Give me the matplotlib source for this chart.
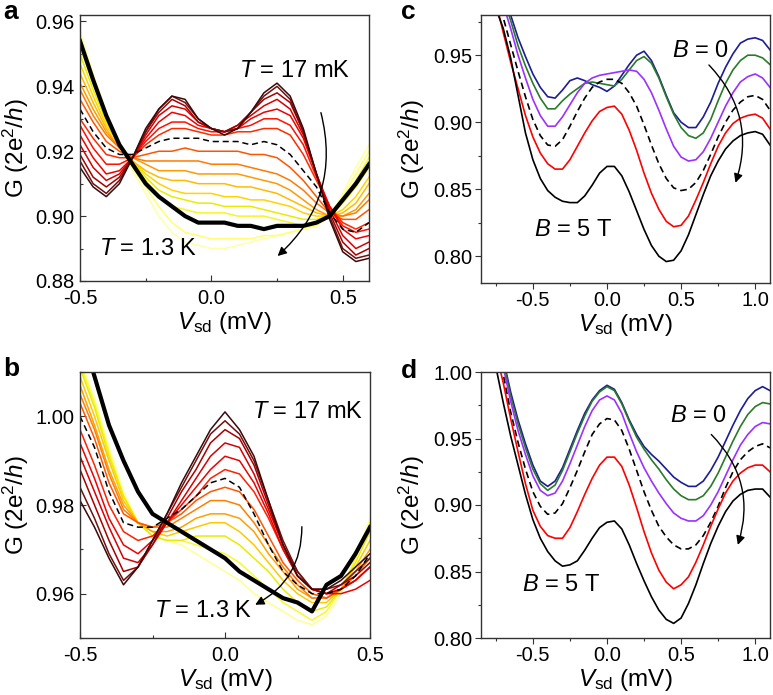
import matplotlib
matplotlib.use("Agg")
import matplotlib.pyplot as plt
from matplotlib.ticker import MultipleLocator, FormatStrFormatter

plt.rcParams['font.family'] = ['Liberation Sans', 'DejaVu Sans']
plt.rcParams['mathtext.fontset'] = 'custom'
plt.rcParams['mathtext.rm'] = 'Liberation Sans'
plt.rcParams['mathtext.it'] = 'Liberation Sans:italic'
plt.rcParams['mathtext.bf'] = 'Liberation Sans:bold'

# ---------------- Panel a data (T dependence) ----------------
vsd_a = [-0.50, -0.45, -0.40, -0.35, -0.30, -0.25, -0.20, -0.15, -0.10, -0.05, 0.00,
         0.05, 0.10, 0.15, 0.20, 0.25, 0.30, 0.35, 0.40, 0.45, 0.50, 0.55, 0.60]
a_17mK = [0.915, 0.909, 0.906, 0.910, 0.918, 0.927, 0.933, 0.937, 0.936, 0.930, 0.927,
          0.925, 0.927, 0.932, 0.938, 0.941, 0.937, 0.927, 0.913, 0.899, 0.889, 0.886, 0.887]
a_r2 = [0.917, 0.910, 0.907, 0.911, 0.918, 0.926, 0.933, 0.937, 0.935, 0.930, 0.927,
        0.926, 0.927, 0.932, 0.937, 0.940, 0.936, 0.926, 0.913, 0.900, 0.890, 0.887, 0.888]
a_r3 = [0.919, 0.912, 0.909, 0.912, 0.918, 0.926, 0.932, 0.936, 0.934, 0.929, 0.927,
        0.926, 0.928, 0.932, 0.936, 0.938, 0.935, 0.926, 0.913, 0.901, 0.892, 0.888, 0.890]
a_r4 = [0.922, 0.915, 0.911, 0.913, 0.918, 0.925, 0.931, 0.934, 0.933, 0.929, 0.927,
        0.926, 0.928, 0.931, 0.934, 0.936, 0.933, 0.925, 0.913, 0.902, 0.894, 0.890, 0.892]
a_r5 = [0.925, 0.918, 0.913, 0.914, 0.918, 0.924, 0.929, 0.932, 0.931, 0.928, 0.927,
        0.926, 0.927, 0.930, 0.932, 0.933, 0.931, 0.924, 0.913, 0.903, 0.896, 0.893, 0.894]
a_r6 = [0.928, 0.921, 0.916, 0.916, 0.918, 0.923, 0.927, 0.929, 0.929, 0.927, 0.926,
        0.926, 0.927, 0.928, 0.930, 0.930, 0.928, 0.922, 0.912, 0.903, 0.897, 0.895, 0.896]
a_r7 = [0.930, 0.924, 0.919, 0.918, 0.918, 0.922, 0.925, 0.927, 0.927, 0.926, 0.925,
        0.925, 0.926, 0.926, 0.927, 0.927, 0.925, 0.919, 0.911, 0.903, 0.898, 0.896, 0.898]
a_dash = [0.933, 0.926, 0.921, 0.919, 0.919, 0.921, 0.923, 0.924, 0.924, 0.924, 0.923,
          0.923, 0.923, 0.922, 0.923, 0.922, 0.919, 0.914, 0.909, 0.901, 0.896, 0.895, 0.898]
a_o1 = [0.936, 0.929, 0.923, 0.920, 0.918, 0.919, 0.920, 0.920, 0.921, 0.920, 0.920,
        0.920, 0.920, 0.919, 0.919, 0.918, 0.915, 0.911, 0.906, 0.901, 0.899, 0.899, 0.902]
a_o2 = [0.939, 0.931, 0.925, 0.921, 0.918, 0.917, 0.917, 0.917, 0.917, 0.917, 0.916,
        0.916, 0.916, 0.915, 0.914, 0.913, 0.911, 0.908, 0.904, 0.901, 0.900, 0.901, 0.905]
a_o3 = [0.941, 0.933, 0.926, 0.921, 0.918, 0.916, 0.914, 0.914, 0.914, 0.913, 0.913,
        0.913, 0.913, 0.912, 0.911, 0.910, 0.908, 0.905, 0.902, 0.900, 0.900, 0.902, 0.907]
a_y1 = [0.944, 0.935, 0.927, 0.921, 0.917, 0.914, 0.912, 0.911, 0.911, 0.910, 0.910,
        0.910, 0.909, 0.909, 0.908, 0.907, 0.905, 0.903, 0.901, 0.900, 0.901, 0.904, 0.910]
a_y2 = [0.947, 0.937, 0.928, 0.922, 0.917, 0.913, 0.910, 0.908, 0.907, 0.907, 0.907,
        0.906, 0.906, 0.905, 0.905, 0.904, 0.903, 0.901, 0.900, 0.900, 0.902, 0.906, 0.912]
a_y3 = [0.950, 0.939, 0.929, 0.922, 0.917, 0.912, 0.908, 0.906, 0.905, 0.904, 0.904,
        0.903, 0.903, 0.903, 0.902, 0.901, 0.900, 0.899, 0.899, 0.900, 0.904, 0.909, 0.915]
a_y4 = [0.952, 0.941, 0.930, 0.922, 0.916, 0.911, 0.906, 0.903, 0.902, 0.901, 0.901,
        0.901, 0.900, 0.900, 0.900, 0.899, 0.898, 0.897, 0.898, 0.900, 0.905, 0.911, 0.918]
a_y5 = [0.955, 0.943, 0.931, 0.922, 0.915, 0.909, 0.903, 0.898, 0.895, 0.894, 0.893,
        0.893, 0.893, 0.893, 0.894, 0.894, 0.895, 0.896, 0.897, 0.900, 0.906, 0.913, 0.920]
a_y6 = [0.957, 0.944, 0.932, 0.922, 0.914, 0.907, 0.900, 0.895, 0.892, 0.891, 0.890,
        0.890, 0.891, 0.892, 0.893, 0.894, 0.895, 0.896, 0.897, 0.900, 0.907, 0.915, 0.922]
a_thick = [0.954, 0.942, 0.931, 0.922, 0.916, 0.910, 0.906, 0.903, 0.900, 0.898, 0.898,
           0.898, 0.897, 0.897, 0.896, 0.897, 0.897, 0.897, 0.898, 0.900, 0.905, 0.910, 0.916]

# ---------------- Panel b data (T dependence) ----------------
vsd_b = [-0.50, -0.45, -0.40, -0.35, -0.30, -0.25, -0.20, -0.15, -0.10, -0.05, 0.00,
         0.05, 0.10, 0.15, 0.20, 0.25, 0.30, 0.35, 0.40, 0.45, 0.50]
b_17mK = [0.981, 0.975, 0.968, 0.962, 0.966, 0.972, 0.978, 0.985, 0.991, 0.997, 1.001,
          0.997, 0.991, 0.981, 0.971, 0.964, 0.961, 0.961, 0.963, 0.966, 0.969]
b_r2 = [0.984, 0.977, 0.969, 0.963, 0.966, 0.972, 0.978, 0.984, 0.990, 0.996, 0.999,
        0.996, 0.990, 0.981, 0.972, 0.965, 0.961, 0.961, 0.962, 0.965, 0.968]
b_r3 = [0.988, 0.980, 0.972, 0.965, 0.966, 0.971, 0.977, 0.983, 0.988, 0.994, 0.997,
        0.995, 0.989, 0.980, 0.971, 0.965, 0.961, 0.960, 0.962, 0.964, 0.967]
b_r4 = [0.991, 0.983, 0.975, 0.968, 0.967, 0.971, 0.976, 0.981, 0.986, 0.991, 0.994,
        0.993, 0.987, 0.979, 0.971, 0.964, 0.961, 0.960, 0.961, 0.963, 0.966]
b_r5 = [0.994, 0.986, 0.977, 0.971, 0.969, 0.972, 0.976, 0.980, 0.984, 0.988, 0.991,
        0.990, 0.985, 0.978, 0.970, 0.964, 0.961, 0.960, 0.960, 0.961, 0.963]
b_r6 = [0.997, 0.989, 0.980, 0.974, 0.972, 0.973, 0.976, 0.979, 0.982, 0.986, 0.988,
        0.987, 0.983, 0.977, 0.970, 0.964, 0.961, 0.960, 0.961, 0.963, 0.966]
b_dash = [1.000, 0.993, 0.983, 0.976, 0.975, 0.975, 0.977, 0.979, 0.982, 0.985, 0.986,
          0.984, 0.978, 0.971, 0.965, 0.962, 0.960, 0.960, 0.961, 0.964, 0.969]
b_o1 = [1.003, 0.995, 0.985, 0.978, 0.976, 0.975, 0.976, 0.978, 0.981, 0.983, 0.984,
        0.983, 0.979, 0.973, 0.967, 0.963, 0.960, 0.959, 0.961, 0.963, 0.966]
b_o2 = [1.005, 0.997, 0.987, 0.979, 0.976, 0.975, 0.975, 0.977, 0.979, 0.981, 0.981,
        0.980, 0.976, 0.971, 0.966, 0.962, 0.959, 0.959, 0.961, 0.964, 0.968]
b_o3 = [1.007, 0.998, 0.988, 0.980, 0.976, 0.974, 0.974, 0.975, 0.977, 0.978, 0.978,
        0.977, 0.974, 0.969, 0.965, 0.961, 0.959, 0.959, 0.961, 0.965, 0.970]
b_y1 = [1.009, 1.000, 0.990, 0.981, 0.976, 0.974, 0.973, 0.974, 0.975, 0.976, 0.976,
        0.974, 0.971, 0.967, 0.963, 0.960, 0.958, 0.958, 0.961, 0.966, 0.972]
b_y2 = [1.011, 1.002, 0.991, 0.982, 0.976, 0.973, 0.972, 0.972, 0.973, 0.973, 0.973,
        0.971, 0.968, 0.965, 0.961, 0.958, 0.956, 0.957, 0.961, 0.967, 0.974]
b_y3 = [1.012, 1.003, 0.992, 0.982, 0.976, 0.973, 0.972, 0.972, 0.971, 0.970, 0.969,
        0.967, 0.964, 0.961, 0.958, 0.956, 0.954, 0.956, 0.961, 0.968, 0.976]
b_y4 = [1.013, 1.004, 0.993, 0.983, 0.976, 0.973, 0.972, 0.971, 0.969, 0.967, 0.965,
        0.963, 0.960, 0.958, 0.956, 0.954, 0.953, 0.955, 0.960, 0.968, 0.977]
b_thick = [1.020, 1.009, 0.998, 0.990, 0.983, 0.978, 0.976, 0.974, 0.972, 0.970, 0.968,
           0.965, 0.963, 0.961, 0.959, 0.958, 0.956, 0.962, 0.964, 0.969, 0.975]

# ---------------- Panel c data (B dependence) ----------------
vsd_cd = [-0.75, -0.70, -0.65, -0.60, -0.55, -0.50, -0.45, -0.40, -0.35, -0.30, -0.25,
          -0.20, -0.15, -0.10, -0.05, 0.00, 0.05, 0.10, 0.15, 0.20, 0.25, 0.30, 0.35,
          0.40, 0.45, 0.50, 0.55, 0.60, 0.65, 0.70, 0.75, 0.80, 0.85, 0.90, 0.95,
          1.00, 1.05, 1.10]
c_B0 = [1.020, 1.000, 0.980, 0.963, 0.949, 0.936, 0.926, 0.919, 0.918, 0.924, 0.931,
        0.933, 0.931, 0.928, 0.926, 0.923, 0.927, 0.935, 0.943, 0.950, 0.953, 0.946, 0.934,
        0.920, 0.907, 0.900, 0.896, 0.896, 0.904, 0.915, 0.929, 0.941, 0.951, 0.959, 0.962,
        0.963, 0.961, 0.954]
c_B1 = [1.015, 0.993, 0.976, 0.957, 0.942, 0.929, 0.918, 0.910, 0.910, 0.916, 0.921,
        0.925, 0.929, 0.930, 0.929, 0.928, 0.927, 0.932, 0.939, 0.946, 0.949, 0.944, 0.933,
        0.919, 0.906, 0.896, 0.890, 0.888, 0.892, 0.902, 0.916, 0.929, 0.939, 0.946, 0.950,
        0.950, 0.948, 0.943]
c_B2 = [1.010, 0.988, 0.970, 0.950, 0.933, 0.917, 0.905, 0.897, 0.897, 0.904, 0.913,
        0.922, 0.929, 0.933, 0.935, 0.936, 0.937, 0.938, 0.939, 0.938, 0.932, 0.922, 0.909,
        0.895, 0.882, 0.874, 0.871, 0.872, 0.878, 0.888, 0.900, 0.912, 0.922, 0.930, 0.934,
        0.936, 0.933, 0.926]
c_B3 = [1.000, 0.978, 0.958, 0.938, 0.919, 0.902, 0.890, 0.883, 0.882, 0.887, 0.897,
        0.908, 0.918, 0.926, 0.930, 0.932, 0.932, 0.929, 0.922, 0.912, 0.898, 0.883, 0.869,
        0.858, 0.851, 0.849, 0.850, 0.855, 0.864, 0.876, 0.889, 0.900, 0.909, 0.915, 0.919,
        0.920, 0.917, 0.909]
c_B4 = [0.990, 0.967, 0.945, 0.925, 0.905, 0.889, 0.877, 0.869, 0.865, 0.865, 0.872,
        0.882, 0.892, 0.901, 0.908, 0.911, 0.912, 0.906, 0.894, 0.879, 0.862, 0.847, 0.835,
        0.826, 0.822, 0.823, 0.830, 0.842, 0.855, 0.869, 0.882, 0.892, 0.899, 0.903, 0.905,
        0.906, 0.903, 0.895]
c_B5 = [0.985, 0.970, 0.948, 0.920, 0.892, 0.872, 0.858, 0.849, 0.844, 0.841, 0.840,
        0.840, 0.845, 0.853, 0.862, 0.867, 0.867, 0.860, 0.848, 0.834, 0.820, 0.808, 0.800,
        0.796, 0.797, 0.804, 0.816, 0.831, 0.846, 0.860, 0.871, 0.880, 0.886, 0.890, 0.892,
        0.893, 0.891, 0.883]

# ---------------- Panel d data (B dependence) ----------------
d_B0 = [1.030, 1.010, 0.985, 0.964, 0.946, 0.930, 0.918, 0.914, 0.918, 0.928, 0.942,
        0.956, 0.969, 0.979, 0.986, 0.990, 0.987, 0.977, 0.964, 0.953, 0.944, 0.938, 0.933,
        0.927, 0.921, 0.917, 0.914, 0.914, 0.918, 0.926, 0.936, 0.948, 0.960, 0.971, 0.980,
        0.986, 0.989, 0.986]
d_B1 = [1.028, 1.008, 0.982, 0.961, 0.943, 0.927, 0.916, 0.911, 0.915, 0.926, 0.940,
        0.954, 0.967, 0.978, 0.985, 0.989, 0.986, 0.976, 0.963, 0.951, 0.942, 0.934, 0.927,
        0.919, 0.912, 0.907, 0.904, 0.904, 0.907, 0.914, 0.924, 0.936, 0.948, 0.959, 0.968,
        0.974, 0.977, 0.976]
d_B2 = [1.025, 1.004, 0.978, 0.956, 0.938, 0.922, 0.911, 0.907, 0.909, 0.918, 0.931,
        0.945, 0.959, 0.971, 0.979, 0.982, 0.979, 0.969, 0.954, 0.940, 0.928, 0.918, 0.909,
        0.901, 0.894, 0.890, 0.888, 0.888, 0.892, 0.900, 0.910, 0.922, 0.934, 0.945, 0.953,
        0.959, 0.962, 0.961]
d_B3 = [1.020, 0.998, 0.970, 0.947, 0.927, 0.910, 0.899, 0.893, 0.894, 0.901, 0.913,
        0.926, 0.940, 0.953, 0.961, 0.965, 0.964, 0.956, 0.942, 0.926, 0.910, 0.896, 0.884,
        0.876, 0.870, 0.867, 0.867, 0.870, 0.877, 0.887, 0.899, 0.913, 0.925, 0.934, 0.940,
        0.944, 0.946, 0.943]
d_B4 = [1.015, 0.992, 0.965, 0.940, 0.916, 0.896, 0.884, 0.877, 0.875, 0.875, 0.883,
        0.895, 0.908, 0.920, 0.930, 0.936, 0.936, 0.929, 0.915, 0.898, 0.880, 0.864, 0.851,
        0.842, 0.837, 0.840, 0.846, 0.857, 0.870, 0.884, 0.897, 0.909, 0.918, 0.924, 0.928,
        0.930, 0.930, 0.925]
d_B5 = [1.004, 0.977, 0.952, 0.930, 0.908, 0.889, 0.875, 0.865, 0.858, 0.854, 0.855,
        0.858, 0.866, 0.875, 0.883, 0.887, 0.888, 0.882, 0.870, 0.856, 0.843, 0.831, 0.821,
        0.814, 0.811, 0.815, 0.826, 0.840, 0.856, 0.871, 0.884, 0.895, 0.903, 0.908, 0.911,
        0.912, 0.912, 0.906]

# curve lists (drawing order: hot first, cold last)
curves_a = [(a_y6, '#ffffa8'), (a_y5, '#ffff70'), (a_y4, '#f5f528'), (a_y3, '#e8ec00'),
            (a_y2, '#ffd400'), (a_y1, '#ffbb00'), (a_o3, '#ff9a00'), (a_o2, '#ff7a00'),
            (a_o1, '#ff5500'), (a_r7, '#ff2a00'), (a_r6, '#ff1000'), (a_r5, '#f00000'),
            (a_r4, '#d80000'), (a_r3, '#a80000'), (a_r2, '#701010'), (a_17mK, '#3a0a0a')]
curves_b = [(b_y4, '#ffff90'), (b_y3, '#f8f830'), (b_y2, '#e8ec00'), (b_y1, '#ffc800'),
            (b_o3, '#ffa000'), (b_o2, '#ff7f00'), (b_o1, '#ff5500'), (b_r6, '#ff2000'),
            (b_r5, '#f00000'), (b_r4, '#d80000'), (b_r3, '#a80000'), (b_r2, '#701010'),
            (b_17mK, '#3a0a0a')]
curves_c = [(c_B0, '#1c1c96', '-'), (c_B1, '#2a7a2a', '-'), (c_B2, '#9b30ff', '-'),
            (c_B3, '#000000', '--'), (c_B4, '#ff0000', '-'), (c_B5, '#000000', '-')]
curves_d = [(d_B0, '#1c1c96', '-'), (d_B1, '#2a7a2a', '-'), (d_B2, '#9b30ff', '-'),
            (d_B3, '#000000', '--'), (d_B4, '#ff0000', '-'), (d_B5, '#000000', '-')]

fig = plt.figure(figsize=(7.73, 6.95), dpi=100)
W, H = 773.0, 695.0
def box(l, t, r, b):
    return [l / W, 1 - b / H, (r - l) / W, (b - t) / H]

ax_a = fig.add_axes(box(80, 15, 369, 281))
ax_b = fig.add_axes(box(80, 372, 370, 638))
ax_c = fig.add_axes(box(481, 15, 770, 283))
ax_d = fig.add_axes(box(481, 372, 770, 638))

TICK = 14.5
LAB = 17.5
ANN = 17
ylab = r'G (2e$^{2}$/$h$)'
xlab = r'$V$$_{\rm sd}$ (mV)'

def style(ax, direction, xmaj, xmin, ymaj, ymin, xpad, ypad):
    ax.xaxis.set_major_locator(MultipleLocator(xmaj))
    ax.xaxis.set_minor_locator(MultipleLocator(xmin))
    ax.yaxis.set_major_locator(MultipleLocator(ymaj))
    ax.yaxis.set_minor_locator(MultipleLocator(ymin))
    ax.tick_params(which='both', direction=direction, top=False, right=False,
                   labelsize=TICK, width=0.8, color='#333333')
    ax.tick_params(axis='x', which='both', pad=xpad)
    ax.tick_params(axis='y', which='both', pad=ypad)
    ax.tick_params(which='major', length=4)
    ax.tick_params(which='minor', length=2.5)
    for s in ax.spines.values():
        s.set_linewidth(1.0)
        s.set_color('#333333')
    ax.set_ylabel(ylab, fontsize=LAB)
    ax.set_xlabel(xlab, fontsize=LAB, labelpad=1)
    ax.yaxis.set_major_formatter(FormatStrFormatter('%.2f'))
    ax.xaxis.set_major_formatter(FormatStrFormatter('%.1f'))

arrow_kw = dict(arrowstyle='-|>', color='k', lw=1.0, mutation_scale=13,
                connectionstyle='arc3,rad=-0.3', shrinkA=0, shrinkB=0)
dash = (0, (4, 2.5))

# ---- a ----
for yv, col in curves_a:
    ax_a.plot(vsd_a, yv, color=col, lw=1.1)
ax_a.plot(vsd_a, a_dash, color='k', lw=1.1, ls=dash)
ax_a.plot(vsd_a, a_thick, color='k', lw=3.0)
ax_a.set_xlim(-0.5, 0.6)
ax_a.set_ylim(0.88, 0.962)
style(ax_a, 'in', 0.5, 0.25, 0.02, 0.01, 6, 4)
ax_a.text(0.107, 0.9446, r'$T$ = 17 mK', fontsize=ANN, va='center', ha='left')
ax_a.text(-0.426, 0.8898, r'$T$ = 1.3 K', fontsize=ANN, va='center', ha='left')
ax_a.annotate('', xy=(0.252, 0.8877), xytext=(0.417, 0.9319), arrowprops=arrow_kw)

# ---- b ----
for yv, col in curves_b:
    ax_b.plot(vsd_b, yv, color=col, lw=1.1)
ax_b.plot(vsd_b, b_dash, color='k', lw=1.1, ls=dash)
ax_b.plot(vsd_b, b_thick, color='k', lw=3.0)
ax_b.set_xlim(-0.5, 0.5)
ax_b.set_ylim(0.95, 1.01)
style(ax_b, 'in', 0.5, 0.25, 0.02, 0.01, 6, 4)
ax_b.text(0.093, 1.001, r'$T$ = 17 mK', fontsize=ANN, va='center', ha='left')
ax_b.text(-0.246, 0.956, r'$T$ = 1.3 K', fontsize=ANN, va='center', ha='left')
ax_b.annotate('', xy=(0.104, 0.9575), xytext=(0.265, 0.9751), arrowprops=arrow_kw)

# ---- c ----
for yv, col, ls in curves_c:
    ax_c.plot(vsd_cd, yv, color=col, lw=1.2, ls=ls if ls == '-' else dash)
ax_c.set_xlim(-0.85, 1.1)
ax_c.set_ylim(0.78, 0.98)
style(ax_c, 'out', 0.5, 0.25, 0.05, 0.025, 2, 2)
ax_c.text(0.44, 0.9528, r'$B$ = 0', fontsize=ANN, va='center', ha='left')
ax_c.text(-0.49, 0.8196, r'$B$ = 5 T', fontsize=ANN, va='center', ha='left')
ax_c.annotate('', xy=(0.867, 0.8548), xytext=(0.688, 0.9427), arrowprops=arrow_kw)

# ---- d ----
for yv, col, ls in curves_d:
    ax_d.plot(vsd_cd, yv, color=col, lw=1.2, ls=ls if ls == '-' else dash)
ax_d.set_xlim(-0.85, 1.1)
ax_d.set_ylim(0.80, 1.00)
style(ax_d, 'out', 0.5, 0.25, 0.05, 0.025, 2, 2)
ax_d.text(0.424, 0.967, r'$B$ = 0', fontsize=ANN, va='center', ha='left')
ax_d.text(-0.574, 0.840, r'$B$ = 5 T', fontsize=ANN, va='center', ha='left')
ax_d.annotate('', xy=(0.883, 0.870), xytext=(0.704, 0.953), arrowprops=arrow_kw)

for ax in (ax_a, ax_b):
    ax.yaxis.set_label_coords(-0.17, 0.5)
for ax in (ax_c, ax_d):
    ax.yaxis.set_label_coords(-0.187, 0.5)

# panel letters
fig.text(3 / W, 1 - 19 / H, 'a', fontsize=19, fontweight='bold', ha='left', va='baseline')
fig.text(3 / W, 1 - 376 / H, 'b', fontsize=19, fontweight='bold', ha='left', va='baseline')
fig.text(401 / W, 1 - 19 / H, 'c', fontsize=19, fontweight='bold', ha='left', va='baseline')
fig.text(401 / W, 1 - 378 / H, 'd', fontsize=19, fontweight='bold', ha='left', va='baseline')

fig.savefig('out.png', dpi=100)
